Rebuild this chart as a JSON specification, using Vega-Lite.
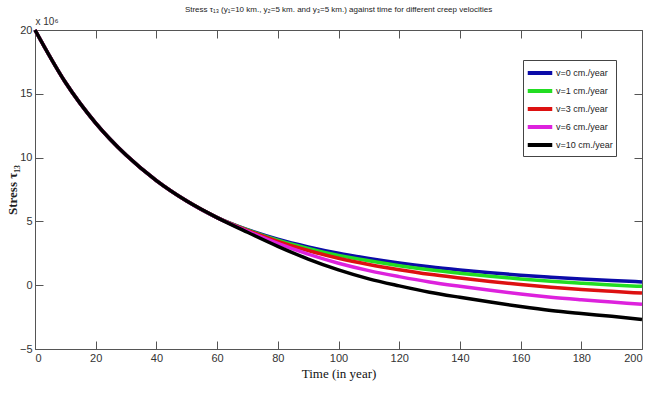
{
  "$schema": "https://vega.github.io/schema/vega-lite/v6.json",
  "width": 607,
  "height": 319,
  "autosize": "none",
  "padding": {"left": 35, "top": 30, "right": 4, "bottom": 45},
  "background": "white",
  "title": {
    "text": "Stress τ₁₃ (y₁=10 km., y₂=5 km. and y₃=5 km.) against time for different creep velocities",
    "frame": "group",
    "anchor": "middle",
    "offset": 2,
    "font": "Liberation Sans, sans-serif",
    "fontSize": 8,
    "fontWeight": "normal",
    "color": "#222"
  },
  "data": {
    "values": [
      {"t": 0, "s": 20, "v": "v=0 cm./year"},
      {"t": 10, "s": 15.9, "v": "v=0 cm./year"},
      {"t": 20, "s": 12.7, "v": "v=0 cm./year"},
      {"t": 30, "s": 10.2, "v": "v=0 cm./year"},
      {"t": 40, "s": 8.2, "v": "v=0 cm./year"},
      {"t": 50, "s": 6.6, "v": "v=0 cm./year"},
      {"t": 60, "s": 5.3, "v": "v=0 cm./year"},
      {"t": 70, "s": 4.35, "v": "v=0 cm./year"},
      {"t": 80, "s": 3.6, "v": "v=0 cm./year"},
      {"t": 90, "s": 3.0, "v": "v=0 cm./year"},
      {"t": 100, "s": 2.5, "v": "v=0 cm./year"},
      {"t": 110, "s": 2.1, "v": "v=0 cm./year"},
      {"t": 120, "s": 1.75, "v": "v=0 cm./year"},
      {"t": 130, "s": 1.45, "v": "v=0 cm./year"},
      {"t": 140, "s": 1.2, "v": "v=0 cm./year"},
      {"t": 150, "s": 0.98, "v": "v=0 cm./year"},
      {"t": 160, "s": 0.78, "v": "v=0 cm./year"},
      {"t": 170, "s": 0.62, "v": "v=0 cm./year"},
      {"t": 180, "s": 0.48, "v": "v=0 cm./year"},
      {"t": 190, "s": 0.36, "v": "v=0 cm./year"},
      {"t": 200, "s": 0.26, "v": "v=0 cm./year"},

      {"t": 0, "s": 20, "v": "v=1 cm./year"},
      {"t": 10, "s": 15.9, "v": "v=1 cm./year"},
      {"t": 20, "s": 12.7, "v": "v=1 cm./year"},
      {"t": 30, "s": 10.2, "v": "v=1 cm./year"},
      {"t": 40, "s": 8.2, "v": "v=1 cm./year"},
      {"t": 50, "s": 6.6, "v": "v=1 cm./year"},
      {"t": 60, "s": 5.3, "v": "v=1 cm./year"},
      {"t": 70, "s": 4.33, "v": "v=1 cm./year"},
      {"t": 80, "s": 3.53, "v": "v=1 cm./year"},
      {"t": 90, "s": 2.89, "v": "v=1 cm./year"},
      {"t": 100, "s": 2.34, "v": "v=1 cm./year"},
      {"t": 110, "s": 1.91, "v": "v=1 cm./year"},
      {"t": 120, "s": 1.53, "v": "v=1 cm./year"},
      {"t": 130, "s": 1.21, "v": "v=1 cm./year"},
      {"t": 140, "s": 0.94, "v": "v=1 cm./year"},
      {"t": 150, "s": 0.70, "v": "v=1 cm./year"},
      {"t": 160, "s": 0.49, "v": "v=1 cm./year"},
      {"t": 170, "s": 0.31, "v": "v=1 cm./year"},
      {"t": 180, "s": 0.16, "v": "v=1 cm./year"},
      {"t": 190, "s": 0.02, "v": "v=1 cm./year"},
      {"t": 200, "s": -0.09, "v": "v=1 cm./year"},

      {"t": 0, "s": 20, "v": "v=3 cm./year"},
      {"t": 10, "s": 15.9, "v": "v=3 cm./year"},
      {"t": 20, "s": 12.7, "v": "v=3 cm./year"},
      {"t": 30, "s": 10.2, "v": "v=3 cm./year"},
      {"t": 40, "s": 8.2, "v": "v=3 cm./year"},
      {"t": 50, "s": 6.6, "v": "v=3 cm./year"},
      {"t": 60, "s": 5.3, "v": "v=3 cm./year"},
      {"t": 70, "s": 4.29, "v": "v=3 cm./year"},
      {"t": 80, "s": 3.44, "v": "v=3 cm./year"},
      {"t": 90, "s": 2.72, "v": "v=3 cm./year"},
      {"t": 100, "s": 2.11, "v": "v=3 cm./year"},
      {"t": 110, "s": 1.62, "v": "v=3 cm./year"},
      {"t": 120, "s": 1.21, "v": "v=3 cm./year"},
      {"t": 130, "s": 0.85, "v": "v=3 cm./year"},
      {"t": 140, "s": 0.56, "v": "v=3 cm./year"},
      {"t": 150, "s": 0.29, "v": "v=3 cm./year"},
      {"t": 160, "s": 0.05, "v": "v=3 cm./year"},
      {"t": 170, "s": -0.16, "v": "v=3 cm./year"},
      {"t": 180, "s": -0.33, "v": "v=3 cm./year"},
      {"t": 190, "s": -0.48, "v": "v=3 cm./year"},
      {"t": 200, "s": -0.62, "v": "v=3 cm./year"},

      {"t": 0, "s": 20, "v": "v=6 cm./year"},
      {"t": 10, "s": 15.9, "v": "v=6 cm./year"},
      {"t": 20, "s": 12.7, "v": "v=6 cm./year"},
      {"t": 30, "s": 10.2, "v": "v=6 cm./year"},
      {"t": 40, "s": 8.2, "v": "v=6 cm./year"},
      {"t": 50, "s": 6.6, "v": "v=6 cm./year"},
      {"t": 60, "s": 5.3, "v": "v=6 cm./year"},
      {"t": 70, "s": 4.23, "v": "v=6 cm./year"},
      {"t": 80, "s": 3.27, "v": "v=6 cm./year"},
      {"t": 90, "s": 2.43, "v": "v=6 cm./year"},
      {"t": 100, "s": 1.72, "v": "v=6 cm./year"},
      {"t": 110, "s": 1.14, "v": "v=6 cm./year"},
      {"t": 120, "s": 0.67, "v": "v=6 cm./year"},
      {"t": 130, "s": 0.25, "v": "v=6 cm./year"},
      {"t": 140, "s": -0.09, "v": "v=6 cm./year"},
      {"t": 150, "s": -0.40, "v": "v=6 cm./year"},
      {"t": 160, "s": -0.69, "v": "v=6 cm./year"},
      {"t": 170, "s": -0.94, "v": "v=6 cm./year"},
      {"t": 180, "s": -1.14, "v": "v=6 cm./year"},
      {"t": 190, "s": -1.32, "v": "v=6 cm./year"},
      {"t": 200, "s": -1.50, "v": "v=6 cm./year"},

      {"t": 0, "s": 20, "v": "v=10 cm./year"},
      {"t": 10, "s": 15.9, "v": "v=10 cm./year"},
      {"t": 20, "s": 12.7, "v": "v=10 cm./year"},
      {"t": 30, "s": 10.2, "v": "v=10 cm./year"},
      {"t": 40, "s": 8.2, "v": "v=10 cm./year"},
      {"t": 50, "s": 6.6, "v": "v=10 cm./year"},
      {"t": 60, "s": 5.3, "v": "v=10 cm./year"},
      {"t": 70, "s": 4.15, "v": "v=10 cm./year"},
      {"t": 80, "s": 3.05, "v": "v=10 cm./year"},
      {"t": 90, "s": 2.05, "v": "v=10 cm./year"},
      {"t": 100, "s": 1.2, "v": "v=10 cm./year"},
      {"t": 110, "s": 0.5, "v": "v=10 cm./year"},
      {"t": 120, "s": -0.05, "v": "v=10 cm./year"},
      {"t": 130, "s": -0.55, "v": "v=10 cm./year"},
      {"t": 140, "s": -0.95, "v": "v=10 cm./year"},
      {"t": 150, "s": -1.32, "v": "v=10 cm./year"},
      {"t": 160, "s": -1.67, "v": "v=10 cm./year"},
      {"t": 170, "s": -1.98, "v": "v=10 cm./year"},
      {"t": 180, "s": -2.22, "v": "v=10 cm./year"},
      {"t": 190, "s": -2.44, "v": "v=10 cm./year"},
      {"t": 200, "s": -2.68, "v": "v=10 cm./year"}
    ]
  },
  "layer": [
    {
      "mark": {"type": "line", "strokeWidth": 3.5, "interpolate": "monotone"},
      "encoding": {
        "x": {
          "field": "t", "type": "quantitative",
          "scale": {"domain": [0, 200], "nice": false, "zero": false},
          "axis": {
            "orient": "bottom",
            "title": "Time (in year)",
            "values": [0, 20, 40, 60, 80, 100, 120, 140, 160, 180, 200],
            "grid": false,
            "tickSize": -8,
            "tickColor": "#555",
            "domainColor": "#555",
            "labelPadding": 11,
            "labelFont": "Liberation Sans, sans-serif",
            "labelFontSize": 11,
            "labelColor": "#333",
            "titleFont": "Liberation Serif, serif",
            "titleFontSize": 13,
            "titleFontWeight": "normal",
            "titleColor": "#111",
            "titlePadding": 4
          }
        },
        "y": {
          "field": "s", "type": "quantitative",
          "scale": {"domain": [-5, 20], "nice": false, "zero": false},
          "axis": {
            "orient": "left",
            "title": "Stress τ₁₃",
            "values": [-5, 0, 5, 10, 15, 20],
            "grid": false,
            "tickSize": -8,
            "tickColor": "#555",
            "domainColor": "#555",
            "labelPadding": 11,
            "labelFont": "Liberation Sans, sans-serif",
            "labelFontSize": 11,
            "labelColor": "#333",
            "titleFont": "Liberation Serif, DejaVu Serif, serif",
            "titleFontSize": 13,
            "titleFontWeight": "bold",
            "titleColor": "#222",
            "titlePadding": 0
          }
        },
        "color": {
          "field": "v", "type": "nominal",
          "scale": {
            "domain": ["v=0 cm./year", "v=1 cm./year", "v=3 cm./year", "v=6 cm./year", "v=10 cm./year"],
            "range": ["#0b0ba8", "#22dd22", "#dd1111", "#dd22dd", "#000000"]
          },
          "legend": {
            "orient": "none",
            "legendX": 488,
            "legendY": 30,
            "title": null,
            "symbolType": "M-1.55,0H1.55",
            "symbolStrokeWidth": 4,
            "symbolSize": 250,
            "symbolOffset": 4,
            "rowPadding": 0,
            "padding": 3,
            "strokeColor": "#444",
            "fillColor": "white",
            "labelFont": "Liberation Sans, sans-serif",
            "labelFontSize": 9,
            "labelColor": "#222",
            "labelOffset": 6
          }
        }
      }
    },
    {
      "mark": {"type": "line", "opacity": 0},
      "encoding": {
        "x": {
          "field": "t", "type": "quantitative",
          "axis": {
            "orient": "top",
            "labels": false,
            "title": "x 10⁶",
            "titleX": 0,
            "titleY": -4,
            "titleAlign": "left",
            "titleBaseline": "bottom",
            "titleFont": "Liberation Sans, sans-serif",
            "titleFontSize": 10,
            "titleFontWeight": "normal",
            "titleColor": "#333",
            "values": [0, 20, 40, 60, 80, 100, 120, 140, 160, 180, 200],
            "grid": false,
            "tickSize": -8,
            "tickColor": "#555",
            "domainColor": "#555"
          }
        },
        "y": {
          "field": "s", "type": "quantitative",
          "axis": {
            "orient": "right",
            "labels": false,
            "title": null,
            "values": [-5, 0, 5, 10, 15, 20],
            "grid": false,
            "tickSize": -8,
            "tickColor": "#555",
            "domainColor": "#555"
          }
        }
      }
    }
  ],
  "resolve": {"axis": {"x": "independent", "y": "independent"}},
  "config": {"view": {"stroke": null}}
}
